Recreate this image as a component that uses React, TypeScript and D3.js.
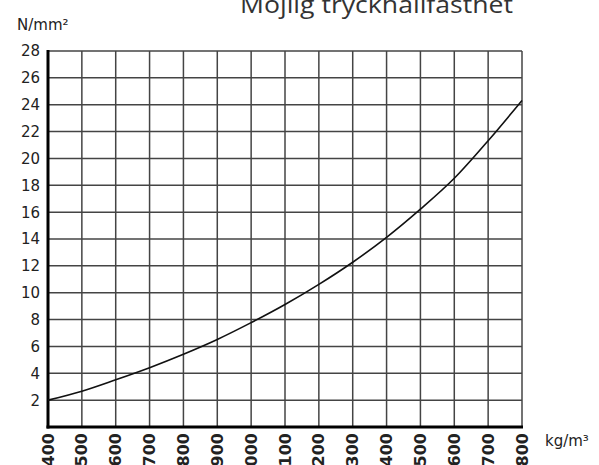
import React, { useRef, useEffect } from 'react';
import * as d3 from 'd3';

// density (kg/m³) and possible compressive strength (N/mm²)
const densities = [400, 500, 600, 700, 800, 900, 1000, 1100, 1200, 1300, 1400, 1500, 1600, 1700, 1800];
const strengths = [2, 2.67, 3.52, 4.42, 5.42, 6.52, 7.77, 9.12, 10.62, 12.27, 14.12, 16.22, 18.52, 21.32, 24.32];
const yTicks = [2, 4, 6, 8, 10, 12, 14, 16, 18, 20, 22, 24, 26, 28];

const App = () => {
  const svgRef = useRef(null);

  useEffect(() => {
    const width = 599;
    const height = 465;
    const margin = { left: 48, right: 77, top: 51, bottom: 38 };

    const svg = d3.select(svgRef.current)
      .attr('width', width)
      .attr('height', height)
      .style('background', '#fff');
    svg.selectAll('*').remove();

    const x = d3.scaleLinear().domain([400, 1800]).range([margin.left, width - margin.right]);
    const y = d3.scaleLinear().domain([0, 28]).range([height - margin.bottom, margin.top]);

    const grid = svg.append('g');
    grid.selectAll('.vline')
      .data(densities.slice(1))
      .enter()
      .append('line')
      .attr('x1', d => x(d)).attr('x2', d => x(d))
      .attr('y1', y(28)).attr('y2', y(0))
      .attr('stroke', '#444').attr('stroke-width', 1.5);
    grid.selectAll('.hline')
      .data(yTicks)
      .enter()
      .append('line')
      .attr('x1', x(400)).attr('x2', x(1800))
      .attr('y1', d => y(d)).attr('y2', d => y(d))
      .attr('stroke', '#444').attr('stroke-width', 1.5);

    // heavy left and bottom axis lines
    svg.append('line')
      .attr('x1', x(400)).attr('x2', x(400))
      .attr('y1', y(28) - 1).attr('y2', y(0) + 1.5)
      .attr('stroke', '#000').attr('stroke-width', 3);
    svg.append('line')
      .attr('x1', x(400) - 1.5).attr('x2', x(1800) + 1)
      .attr('y1', y(0)).attr('y2', y(0))
      .attr('stroke', '#000').attr('stroke-width', 3);

    const line = d3.line<number>()
      .x((d, i) => x(densities[i]))
      .y(d => y(d))
      .curve(d3.curveMonotoneX);
    svg.append('path')
      .datum(strengths)
      .attr('d', line)
      .attr('fill', 'none')
      .attr('stroke', '#111')
      .attr('stroke-width', 1.6);

    const font = '"DejaVu Sans", Verdana, sans-serif';

    svg.selectAll('.ylab')
      .data(yTicks)
      .enter()
      .append('text')
      .attr('x', 40)
      .attr('y', d => y(d))
      .attr('dy', '0.36em')
      .attr('text-anchor', 'end')
      .style('font-family', font)
      .style('font-size', '15px')
      .style('fill', '#222')
      .text(d => d);

    svg.selectAll('.xlab')
      .data(densities)
      .enter()
      .append('text')
      .attr('transform', d => `translate(${x(d) + 5.5}, 433) rotate(-90)`)
      .attr('text-anchor', 'end')
      .style('font-family', font)
      .style('font-size', '16px')
      .style('font-weight', 'bold')
      .style('fill', '#222')
      .text(d => d);

    svg.append('text')
      .attr('x', 17).attr('y', 30)
      .style('font-family', font)
      .style('font-size', '15px')
      .style('fill', '#222')
      .text('N/mm²');

    svg.append('text')
      .attr('x', 545).attr('y', 446)
      .style('font-family', font)
      .style('font-size', '15px')
      .style('fill', '#222')
      .text('kg/m³');

    svg.append('text')
      .attr('x', 240).attr('y', 13)
      .attr('textLength', 273)
      .attr('lengthAdjust', 'spacingAndGlyphs')
      .style('font-family', '"Open Sans", sans-serif')
      .style('font-size', '23px')
      .style('fill', '#333')
      .text('Möjlig tryckhållfasthet');
  }, []);

  return <svg ref={svgRef} style={{ position: 'absolute', left: 0, top: 0 }}></svg>;
};

export default App;
